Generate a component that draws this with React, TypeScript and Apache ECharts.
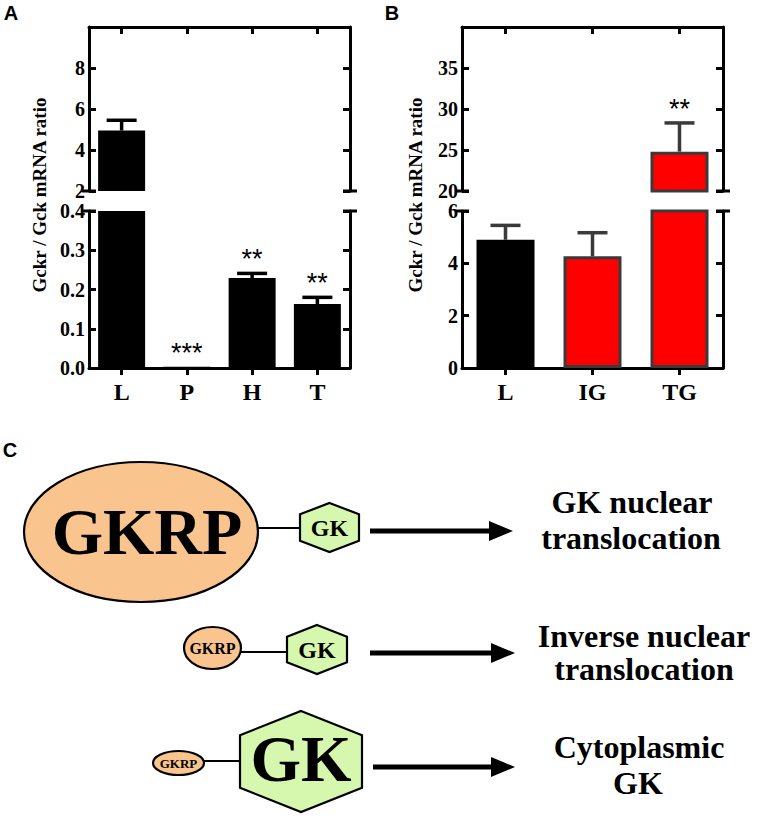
import React, { useEffect, useRef } from "react";
import * as echarts from "echarts";

// ---------- data ----------
const catsA = ["L", "P", "H", "T"];
const valsA = [4.95, 0.003, 0.229, 0.163];
const errA = [0.5, 0, 0.012, 0.017];
const starsA = ["", "***", "**", "**"];

const catsB = ["L", "IG", "TG"];
const valsB = [4.9, 4.27, 24.8];
const errB = [0.55, 0.9, 3.5];
const starsB = ["", "", "**"];
const colorsB = ["#000000", "#ff0000", "#ff0000"];
const bordersB = ["#000000", "#3a3a3a", "#3a3a3a"];

// axis ranges [min, max, interval]
const rangeATop = [2, 10, 2];
const rangeABot = [0, 0.4, 0.1];
const rangeBTop = [20, 40, 5];
const rangeBBot = [0, 6, 2];

const yAxisName = "Gckr / Gck mRNA ratio";

// ---------- layout ----------
const SERIF = '"Liberation Serif", "Times New Roman", serif';
const SANS = '"Liberation Sans", Arial, sans-serif';
const gA = { left: 89, width: 261 };
const gB = { left: 462, width: 261 };
const topY = 27, topH = 164, botY = 211, botH = 157;

function xAx(grid: number, cats: string[], pos: string) {
  const isBottom = pos === "bottom";
  return {
    type: "category",
    gridIndex: grid,
    data: cats,
    position: pos,
    axisLine: { show: true, onZero: false, lineStyle: { color: "#000", width: 3 } },
    axisTick: { show: true, alignWithLabel: true, inside: !isBottom, length: 7, lineStyle: { color: "#000", width: 3 } },
    axisLabel: {
      show: isBottom,
      color: "#000",
      fontFamily: SERIF,
      fontWeight: "bold",
      fontSize: 24,
      margin: 12,
    },
    splitLine: { show: false },
  };
}

function yAx(grid: number, r: number[], pos: string, labels: boolean, showMax: boolean, digits: number) {
  return {
    type: "value",
    gridIndex: grid,
    position: pos,
    min: r[0],
    max: r[1],
    interval: r[2],
    axisLine: { show: true, onZero: false, lineStyle: { color: "#000", width: 3 } },
    axisTick: { show: true, inside: true, length: 7, lineStyle: { color: "#000", width: 3 } },
    axisLabel: {
      show: labels,
      showMaxLabel: showMax,
      color: "#000",
      fontFamily: SERIF,
      fontWeight: "bold",
      fontSize: 20,
      margin: 4,
      formatter: (v: number) => v.toFixed(digits),
    },
    splitLine: { show: false },
  };
}

function errSeries(xi: number, yi: number, vals: number[], errs: number[], stars: string[], color: string, keep: (v: number) => boolean) {
  const data: number[][] = [];
  vals.forEach((v, i) => {
    if (keep(v)) data.push([i, v, errs[i]]);
  });
  return {
    type: "custom",
    xAxisIndex: xi,
    yAxisIndex: yi,
    clip: true,
    z: 5,
    data,
    renderItem: (params: any, api: any) => {
      const i = api.value(0);
      const v = api.value(1);
      const e = api.value(2);
      const p0 = api.coord([i, v]);
      const p1 = api.coord([i, v + e]);
      const children: any[] = [];
      if (e > 0) {
        children.push({
          type: "line",
          shape: { x1: p0[0], y1: p0[1], x2: p1[0], y2: p1[1] },
          style: { stroke: color, lineWidth: 3.5 },
        });
        children.push({
          type: "line",
          shape: { x1: p1[0] - 15, y1: p1[1], x2: p1[0] + 15, y2: p1[1] },
          style: { stroke: color, lineWidth: 3.5 },
        });
      }
      if (stars[i]) {
        children.push({
          type: "text",
          style: {
            text: stars[i],
            x: p1[0],
            y: p1[1] - 14,
            fill: "#000",
            font: `27px ${SANS}`,
            align: "center",
            textAlign: "center",
            verticalAlign: "middle",
            textVerticalAlign: "middle",
          },
        });
      }
      return { type: "group", children };
    },
  };
}

function txt(text: string, x: number, y: number, font: string, extra: any = {}) {
  return {
    type: "text",
    x,
    y,
    ...extra,
    style: {
      text,
      x: 0,
      y: 0,
      fill: "#000",
      font,
      align: "center",
      textAlign: "center",
      verticalAlign: "middle",
      textVerticalAlign: "middle",
    },
  };
}

function hex(x0: number, x1: number, y0: number, y1: number, s: number) {
  const cx = (x0 + x1) / 2;
  const sh = (y1 - y0) * s;
  return {
    type: "polygon",
    shape: {
      points: [
        [cx, y0],
        [x1, y0 + sh],
        [x1, y1 - sh],
        [cx, y1],
        [x0, y1 - sh],
        [x0, y0 + sh],
      ],
    },
    style: { fill: "#d6f7ae", stroke: "#000", lineWidth: 2.2 },
  };
}

function ell(cx: number, cy: number, rx: number, ry: number) {
  return {
    type: "ellipse",
    shape: { cx, cy, rx, ry },
    style: { fill: "#fac48e", stroke: "#000", lineWidth: 2.2 },
  };
}

function ln(x1: number, y1: number, x2: number, y2: number, w: number) {
  return { type: "line", shape: { x1, y1, x2, y2 }, style: { stroke: "#000", lineWidth: w } };
}

function arrow(x1: number, x2: number, y: number) {
  return [
    ln(x1, y, x2 - 20, y, 5),
    {
      type: "polygon",
      shape: { points: [[x2 - 24, y - 10], [x2, y], [x2 - 24, y + 10]] },
      style: { fill: "#000" },
    },
  ];
}

function breakMarks(g: { left: number; width: number }) {
  const out: any[] = [];
  [topY + topH, botY].forEach((y) => {
    out.push(ln(g.left - 7, y, g.left + 7, y, 3));
    out.push(ln(g.left + g.width - 7, y, g.left + g.width + 7, y, 3));
  });
  return out;
}

export default function App() {
  const ref = useRef<HTMLDivElement>(null);
  useEffect(() => {
    document.body.style.margin = "0";
    const chart = echarts.init(ref.current!, null, { renderer: "svg" });

    const option: any = {
      animation: false,
      backgroundColor: "#ffffff",
      grid: [
        { left: gA.left, width: gA.width, top: topY, height: topH },
        { left: gA.left, width: gA.width, top: botY, height: botH },
        { left: gB.left, width: gB.width, top: topY, height: topH },
        { left: gB.left, width: gB.width, top: botY, height: botH },
      ],
      xAxis: [xAx(0, catsA, "top"), xAx(1, catsA, "bottom"), xAx(2, catsB, "top"), xAx(3, catsB, "bottom")],
      yAxis: [
        yAx(0, rangeATop, "left", true, false, 0),
        yAx(0, rangeATop, "right", false, false, 0),
        yAx(1, rangeABot, "left", true, true, 1),
        yAx(1, rangeABot, "right", false, true, 1),
        yAx(2, rangeBTop, "left", true, false, 0),
        yAx(2, rangeBTop, "right", false, false, 0),
        yAx(3, rangeBBot, "left", true, true, 0),
        yAx(3, rangeBBot, "right", false, true, 0),
      ],
      series: [
        {
          type: "bar",
          xAxisIndex: 0,
          yAxisIndex: 0,
          clip: true,
          barWidth: 47,
          itemStyle: { color: "#000" },
          data: valsA.map((v) => (v >= rangeATop[0] ? v : "-")),
        },
        {
          type: "bar",
          xAxisIndex: 1,
          yAxisIndex: 2,
          clip: true,
          barWidth: 47,
          itemStyle: { color: "#000" },
          data: valsA,
        },
        {
          type: "bar",
          xAxisIndex: 2,
          yAxisIndex: 4,
          clip: true,
          barWidth: 58,
          data: valsB.map((v, i) =>
            v >= rangeBTop[0]
              ? { value: v, itemStyle: { color: colorsB[i], borderColor: bordersB[i], borderWidth: 3 } }
              : "-"
          ),
        },
        {
          type: "bar",
          xAxisIndex: 3,
          yAxisIndex: 6,
          clip: true,
          barWidth: 58,
          data: valsB.map((v, i) => ({
            value: v,
            itemStyle: { color: colorsB[i], borderColor: bordersB[i], borderWidth: 3 },
          })),
        },
        errSeries(0, 0, valsA, errA, starsA, "#000", (v) => v >= rangeATop[0]),
        errSeries(1, 2, valsA, errA, starsA, "#000", (v) => v < rangeABot[1]),
        errSeries(2, 4, valsB, errB, starsB, "#3a3a3a", (v) => v >= rangeBTop[0]),
        errSeries(3, 6, valsB, errB, starsB, "#3a3a3a", (v) => v < rangeBBot[1]),
      ],
      graphic: [
        // panel letters
        txt("A", 11, 13, `bold 20px ${SANS}`),
        txt("B", 392, 13, `bold 20px ${SANS}`),
        txt("C", 10, 450, `bold 20px ${SANS}`),
        // y axis names
        txt(yAxisName, 39, 195, `bold 19px ${SERIF}`, { rotation: Math.PI / 2 }),
        txt(yAxisName, 415, 195, `bold 19px ${SERIF}`, { rotation: Math.PI / 2 }),
        ...breakMarks(gA),
        ...breakMarks(gB),
        // row 1
        ell(141, 532, 117, 70),
        txt("GKRP", 147, 531, `bold 66px ${SERIF}`),
        ln(258, 528, 300, 528, 2),
        hex(300, 359, 503, 552, 0.23),
        txt("GK", 329.5, 528, `bold 24px ${SERIF}`),
        ...arrow(370, 513, 531),
        txt("GK nuclear", 632, 502, `bold 32px ${SERIF}`),
        txt("translocation", 631, 538, `bold 32px ${SERIF}`),
        // row 2
        ell(212.5, 648, 28.5, 21),
        txt("GKRP", 212.5, 648, `bold 16px ${SERIF}`),
        ln(241, 652, 287, 652, 2),
        hex(287, 347, 625, 674, 0.24),
        txt("GK", 317, 650, `bold 24px ${SERIF}`),
        ...arrow(370, 515, 653),
        txt("Inverse nuclear", 644, 636, `bold 32px ${SERIF}`),
        txt("translocation", 644, 669, `bold 32px ${SERIF}`),
        // row 3
        ell(178.5, 763, 25.5, 12),
        txt("GKRP", 178.5, 763, `bold 13px ${SERIF}`),
        ln(204, 761, 240, 761, 2),
        hex(240, 362, 711, 812, 0.24),
        txt("GK", 301, 759, `bold 65px ${SERIF}`),
        ...arrow(373, 515, 767),
        txt("Cytoplasmic", 639, 747, `bold 32px ${SERIF}`),
        txt("GK", 638, 783, `bold 32px ${SERIF}`),
      ],
    };
    chart.setOption(option);
    return () => chart.dispose();
  }, []);
  return <div ref={ref} style={{ width: 757, height: 816 }} />;
}
